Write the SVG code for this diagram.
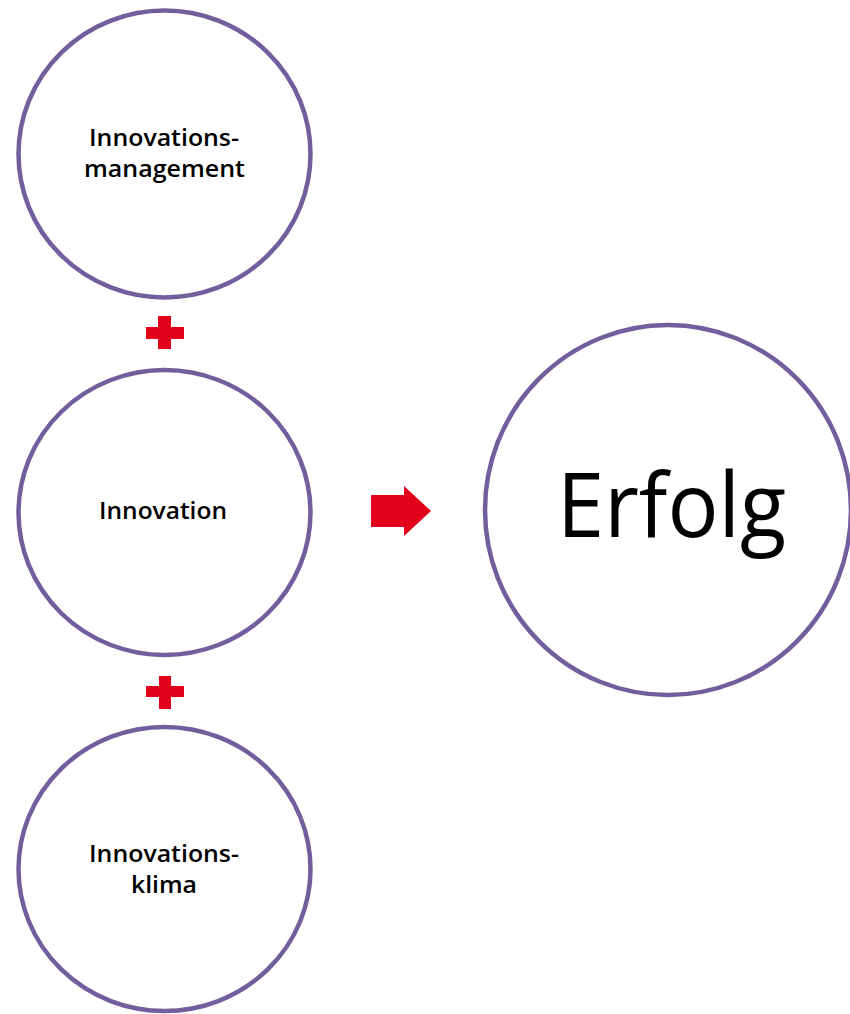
<svg xmlns="http://www.w3.org/2000/svg" width="850" height="1014" viewBox="0 0 850 1014">
  <style>
    .ring { fill: #ffffff; stroke: #715f9d; stroke-width: 4.5; }
    .lbl { font-family: "Open Sans", "Liberation Sans", sans-serif; font-size: 23px; font-weight: 600; fill: #000000; text-anchor: middle; }
    .big { font-family: "Open Sans", "Liberation Sans", sans-serif; font-size: 90px; fill: #000000; }
    .red { fill: #e3001b; }
  </style>
  <rect width="850" height="1014" fill="#ffffff"/>

  <g id="node-management">
    <ellipse class="ring" cx="164.5" cy="154" rx="146" ry="143.5"/>
    <text class="lbl" x="164" y="146" textLength="150" lengthAdjust="spacingAndGlyphs">Innovations-</text>
    <text class="lbl" x="164.5" y="177" textLength="161" lengthAdjust="spacingAndGlyphs">management</text>
  </g>

  <g id="node-innovation">
    <ellipse class="ring" cx="164.5" cy="512.5" rx="146" ry="142.5"/>
    <text class="lbl" x="163" y="519" textLength="128" lengthAdjust="spacingAndGlyphs">Innovation</text>
  </g>

  <g id="node-klima">
    <ellipse class="ring" cx="164.5" cy="869" rx="146" ry="142"/>
    <text class="lbl" x="164" y="862" textLength="150" lengthAdjust="spacingAndGlyphs">Innovations-</text>
    <text class="lbl" x="164" y="893" textLength="66" lengthAdjust="spacingAndGlyphs">klima</text>
  </g>

  <g id="node-erfolg">
    <ellipse class="ring" cx="668" cy="510" rx="183" ry="185"/>
    <text class="big" x="557" y="537" textLength="229" lengthAdjust="spacingAndGlyphs">Erfolg</text>
  </g>

  <g id="connectors">
    <!-- plus signs between the stacked nodes -->
    <path class="red" d="M158 316 H171 V327 H184 V339 H171 V349 H158 V339 H146 V327 H158 Z"/>
    <path class="red" d="M159 676 H171 V686 H184 V697 H171 V709 H159 V697 H146 V686 H159 Z"/>
    <!-- arrow towards the result -->
    <path class="red" d="M371 495 H404 V486 L431 511 L404 536 V527 H371 Z"/>
  </g>
</svg>
